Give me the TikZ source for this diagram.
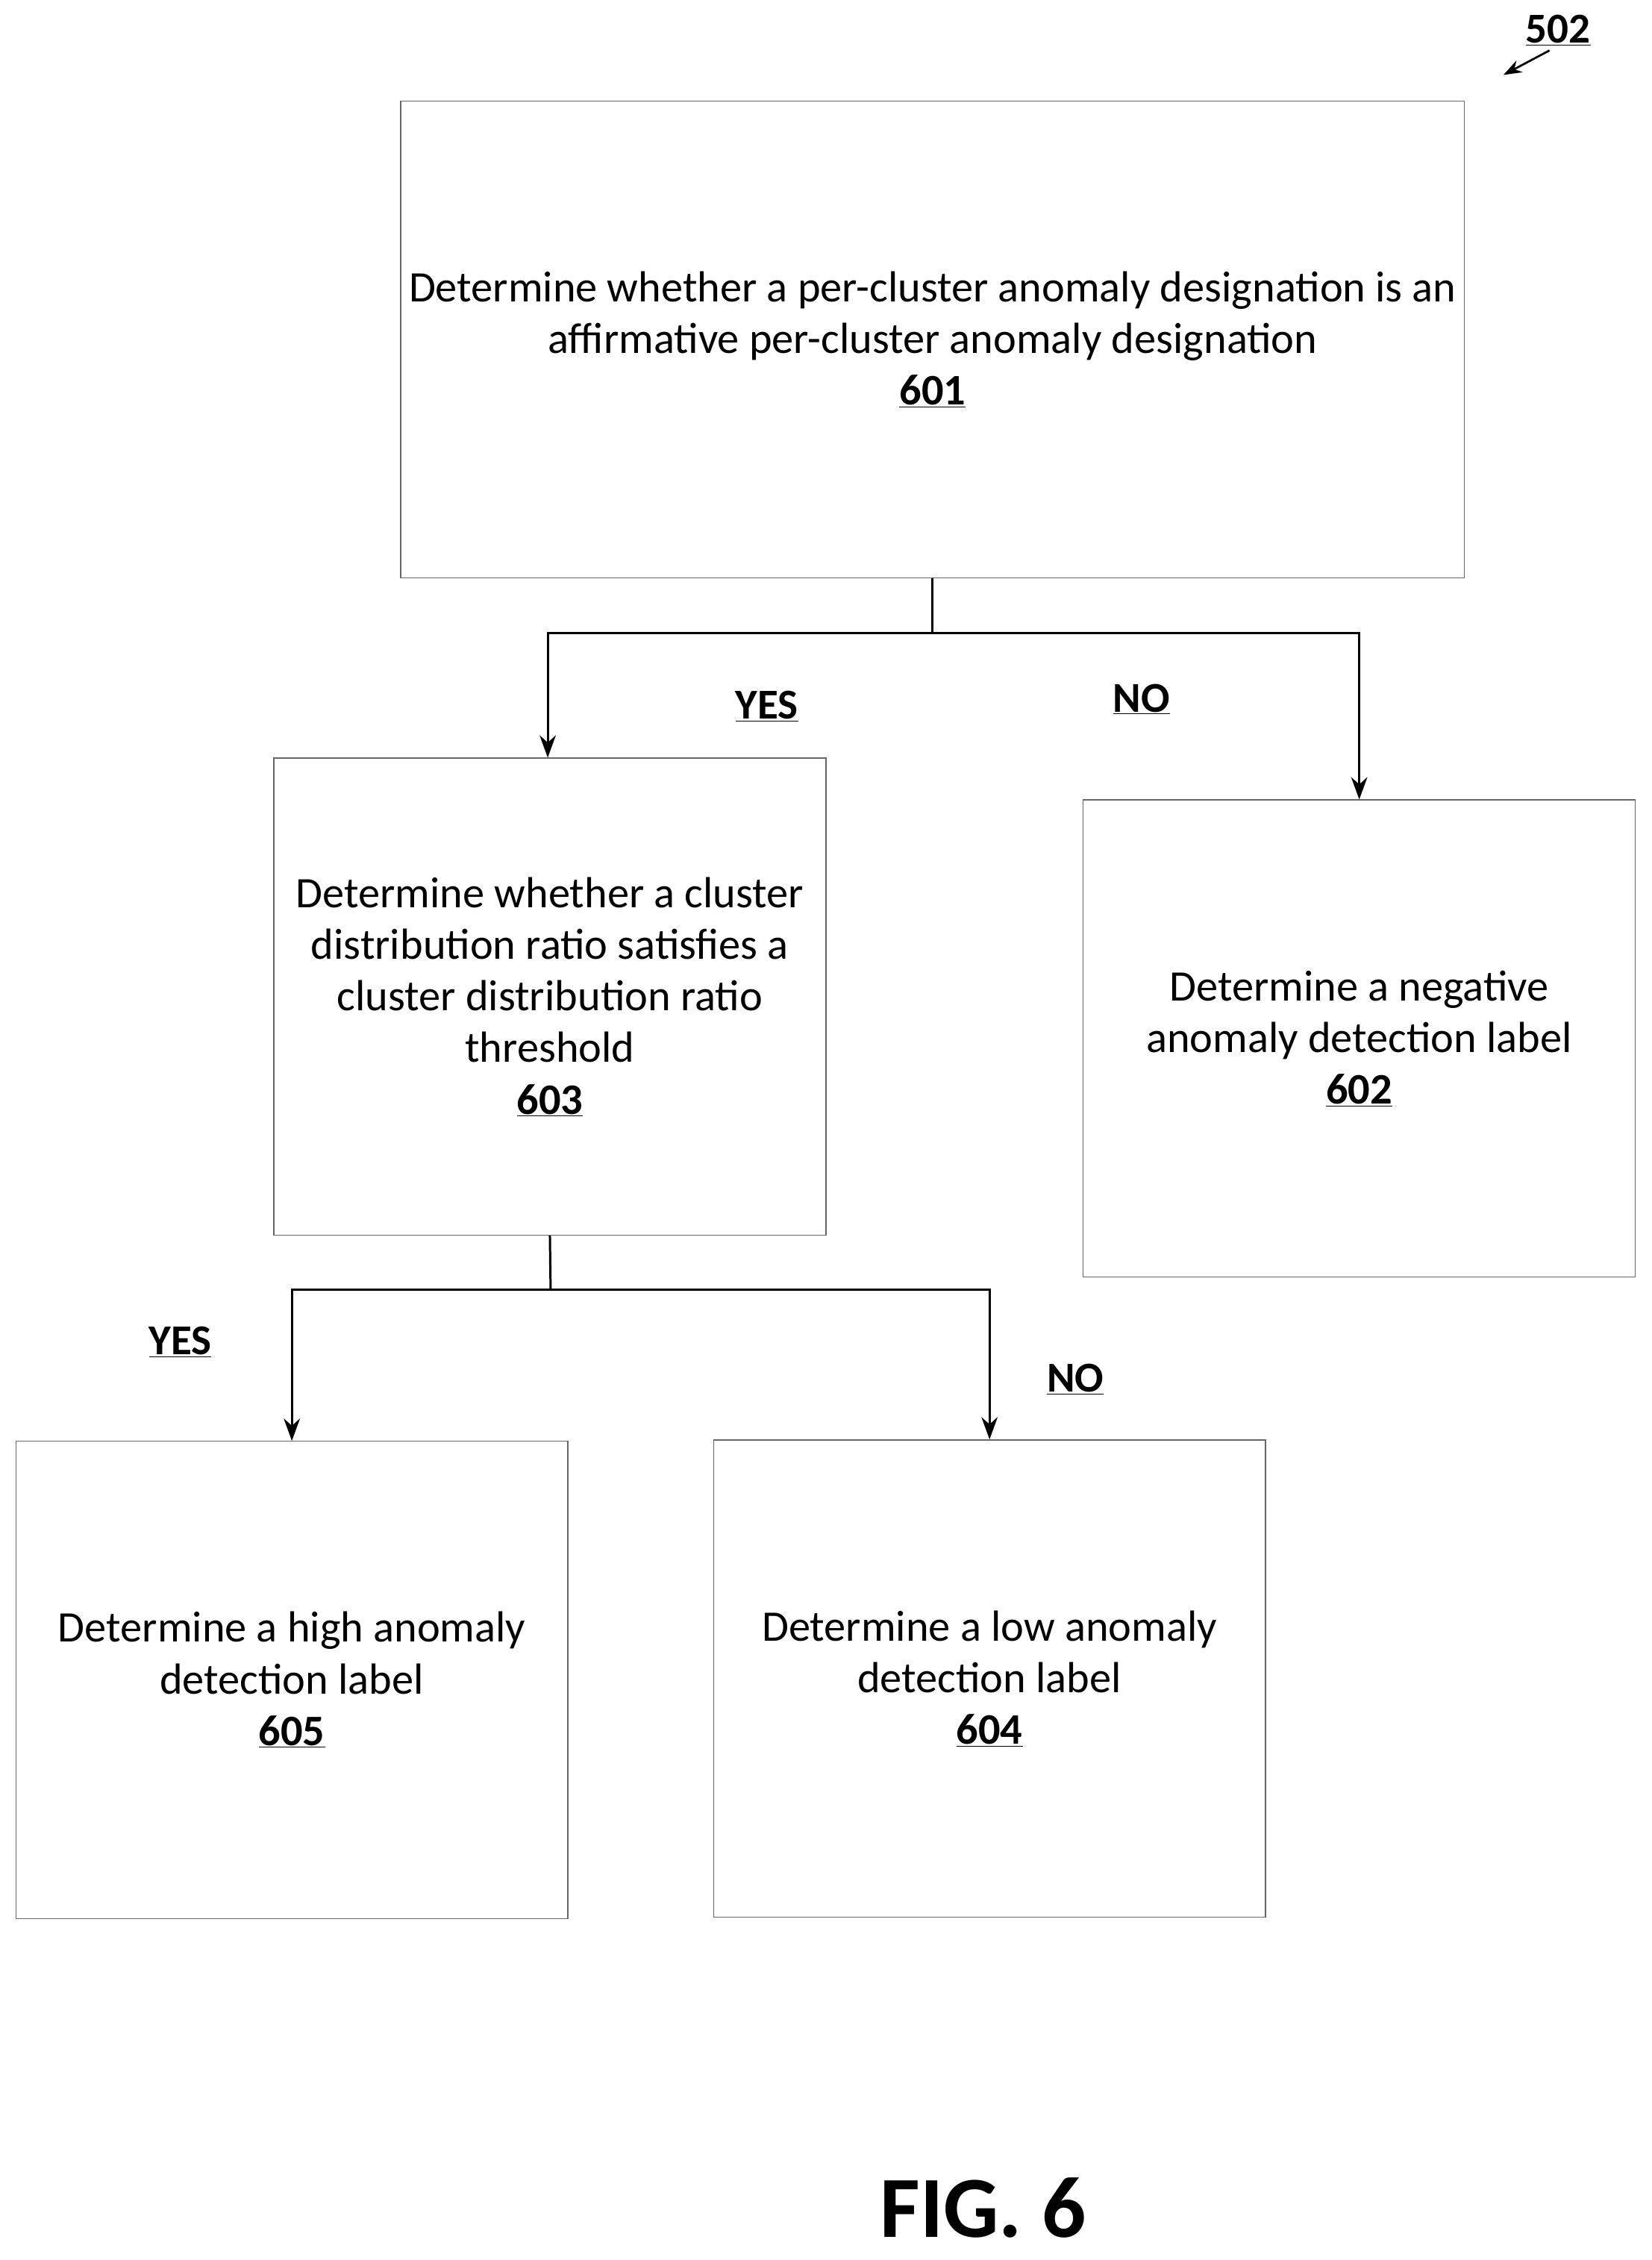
\documentclass[tikz,border=0pt]{standalone}
\usepackage{fontspec}
\setmainfont{Carlito}
\usetikzlibrary{arrows.meta}
\begin{document}
\begin{tikzpicture}[x=0.05cm,y=-0.05cm,
  box/.style={draw=black!60,line width=1pt,minimum width=383*0.05cm,minimum height=331*0.05cm,inner sep=0pt,align=center,font=\fontsize{43}{51}\selectfont},
  conn/.style={line width=2.2pt,-{Stealth[length=22pt,width=16pt]}},
  lbl/.style={font=\fontsize{42}{46}\selectfont\bfseries}]
\useasboundingbox (0,0) rectangle (1146,1568);
\node[box,minimum width=738*0.05cm] (b601) at (647,235.5) {Determine whether a per-cluster anomaly designation is an\\affirmative per-cluster anomaly designation\\\textbf{\underline{601}}};
\node[box] (b603) at (381.5,691.5) {Determine whether a cluster\\distribution ratio satisfies a\\cluster distribution ratio\\threshold\\\textbf{\underline{603}}};
\node[box] (b602) at (943,720.5) {Determine a negative\\anomaly detection label\\\textbf{\underline{602}}};
\node[box] (b605) at (202.5,1165.5) {Determine a high anomaly\\detection label\\\textbf{\underline{605}}};
\node[box] (b604) at (686.5,1164.5) {Determine a low anomaly\\detection label\\\textbf{\underline{604}}};
\coordinate (j1) at (647,439);
\coordinate (j2) at (382,895);
\draw[line width=2.2pt] (b601.south) -- (j1);
\draw[conn] (j1) -| (b603.north -| 380,0);
\draw[conn] (j1) -| (b602.north);
\draw[line width=2.2pt] (b603.south) -- (j2);
\draw[conn] (j2) -| (b605.north);
\draw[conn] (j2) -| (b604.north);
\node[lbl] (y1) at (532,490) {\underline{YES}};
\node[lbl] (n1) at (792,485) {\underline{NO}};
\node[lbl] (y2) at (125,931) {\underline{YES}};
\node[lbl] (n2) at (746,957) {\underline{NO}};
\node[lbl] (r502) at (1081,21) {\underline{502}};
\coordinate (a502) at (1043,52);
\draw[line width=2pt,-{Stealth[length=18pt,width=13pt]}] (1075,35) -- (a502);
\node[font=\fontsize{86}{90}\selectfont\bfseries] (fig) at (682,1532) {FIG. 6};
\end{tikzpicture}
\end{document}
